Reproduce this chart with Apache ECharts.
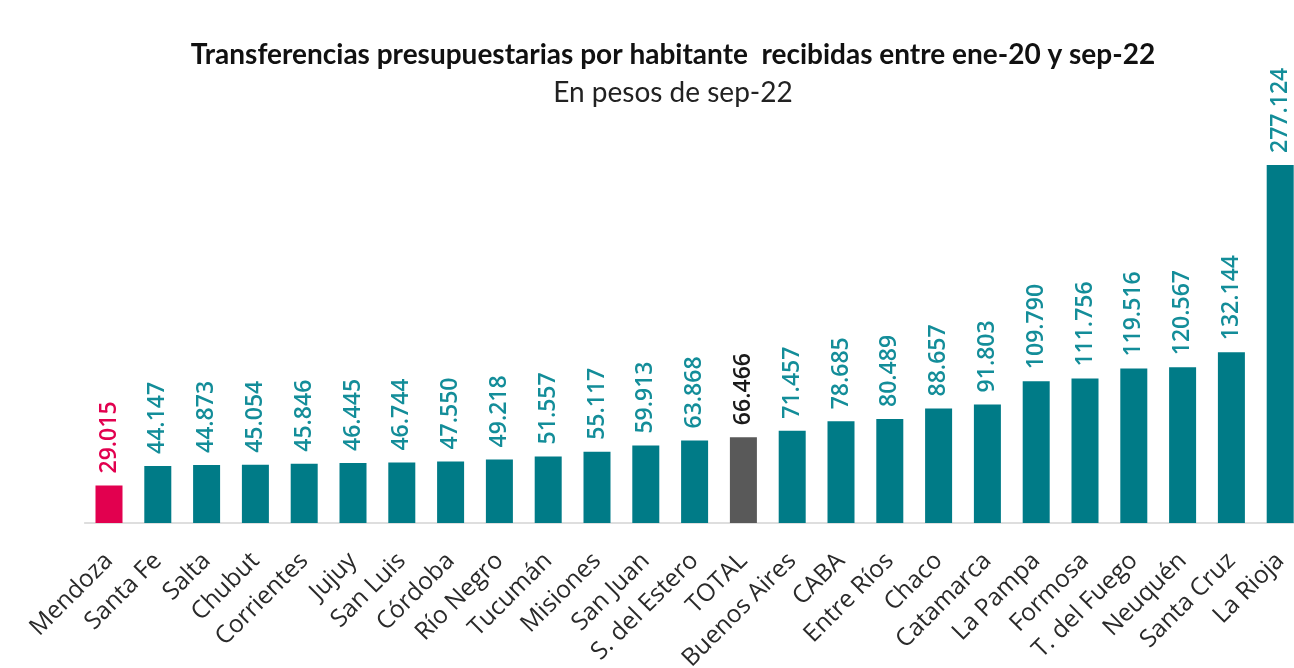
<!DOCTYPE html>
<html>
<head>
<meta charset="utf-8">
<script src="https://cdn.jsdelivr.net/npm/echarts@6/dist/echarts.min.js"></script>
<style>
  html, body { margin: 0; padding: 0; background: #fff; overflow: hidden; }
  #chart { width: 1320px; height: 668px; }
</style>
</head>
<body>
<div id="chart"></div>
<script>
const provincias = ['Mendoza', 'Santa Fe', 'Salta', 'Chubut', 'Corrientes', 'Jujuy', 'San Luis', 'Córdoba',
  'Río Negro', 'Tucumán', 'Misiones', 'San Juan', 'S. del Estero', 'TOTAL', 'Buenos Aires', 'CABA',
  'Entre Ríos', 'Chaco', 'Catamarca', 'La Pampa', 'Formosa', 'T. del Fuego', 'Neuquén', 'Santa Cruz', 'La Rioja']
const transferencias = [29015, 44147, 44873, 45054, 45846, 46445, 46744, 47550,
  49218, 51557, 55117, 59913, 63868, 66466, 71457, 78685,
  80489, 88657, 91803, 109790, 111756, 119516, 120567, 132144, 277124]

const teal = '#007b87'
const tealLabel = '#138d99'

function fmt(v) {
  return String(v).replace(/\B(?=(\d{3})+(?!\d))/g, '.')
}

const barData = transferencias.map((v, i) => {
  const name = provincias[i]
  let color = teal, labelColor = tealLabel
  if (name === 'Mendoza') { color = '#e2004f'; labelColor = '#e2004f' }
  if (name === 'TOTAL') { color = '#595959'; labelColor = '#1a1a1a' }
  return { value: v, itemStyle: { color: color }, label: { color: labelColor } }
})

const chart = echarts.init(document.getElementById('chart'))
const option = {
  animation: false,
  title: [{
    text: 'Transferencias presupuestarias por habitante  recibidas entre ene-20 y sep-22',
    left: 668,
    top: 36,
    textAlign: 'center',
    textStyle: { fontFamily: 'Lato', fontWeight: 'bold', fontSize: 28, color: '#111' }
  }, {
    text: 'En pesos de sep-22',
    left: 668,
    top: 74,
    textAlign: 'center',
    textStyle: { fontFamily: 'Lato', fontWeight: 'normal', fontSize: 28, color: '#222' }
  }],
  grid: {
    left: 84.6,
    width: 1220,
    top: 135.4,
    height: 387.6,
    outerBoundsMode: 'none'
  },
  xAxis: {
    type: 'category',
    data: provincias,
    axisLine: { lineStyle: { color: '#d4d4d4', width: 1.5 } },
    axisTick: { show: false },
    axisLabel: {
      interval: 0,
      rotate: 45,
      margin: 34,
      fontFamily: 'Open Sans',
      fontSize: 24.5,
      color: '#2a2a2a'
    }
  },
  yAxis: {
    type: 'value',
    min: 0,
    max: 300000,
    show: false,
    splitLine: { show: false }
  },
  series: [{
    type: 'bar',
    data: barData,
    barWidth: 27,
    label: {
      show: true,
      position: 'top',
      rotate: 90,
      align: 'left',
      verticalAlign: 'middle',
      distance: 12,
      fontFamily: 'Open Sans',
      fontWeight: 600,
      fontSize: 23,
      formatter: p => fmt(p.value)
    }
  }]
}
chart.setOption(option)
</script>
</body>
</html>
